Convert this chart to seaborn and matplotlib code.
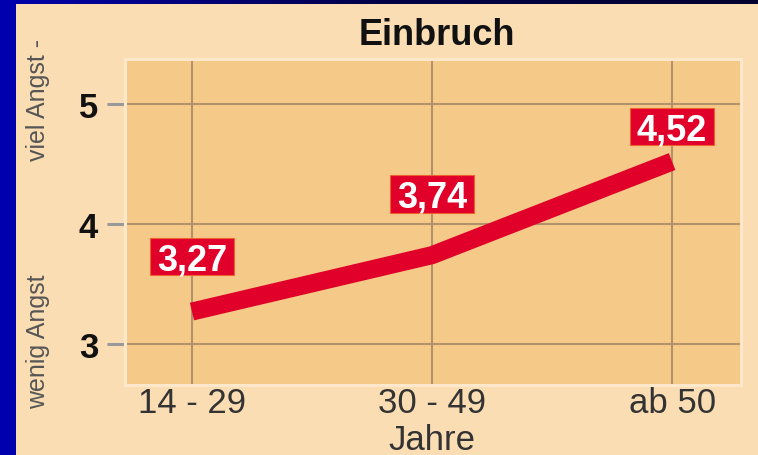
import matplotlib
matplotlib.use("Agg")
import matplotlib.pyplot as plt
import matplotlib.patches as mpatches
from matplotlib.path import Path
from matplotlib.colors import LinearSegmentedColormap
import numpy as np
import pandas as pd
import seaborn as sns

# ---- data ----
categories = ["14 - 29", "30 - 49", "ab 50"]
values = [3.27, 3.74, 4.52]
value_labels = ["3,27", "3,74", "4,52"]
y_ticks = [3, 4, 5]
title = "Einbruch"
x_title = "Jahre"
y_low_text = "wenig Angst"
y_high_text = "viel Angst -"

df = pd.DataFrame({"pos": range(len(categories)), "value": values})

sns.set_theme(style="white")
plt.rcParams['font.family'] = ['Liberation Sans', 'DejaVu Sans']

W, H = 758, 456
fig = plt.figure(figsize=(W / 100, H / 100), dpi=100)
peach = "#FBDDB4"
fig.patch.set_facecolor(peach)

# blue frame: left strip and top gradient bar
bg = fig.add_axes([0, 0, 1, 1], zorder=-10)
bg.axis("off")
bg.add_patch(mpatches.Rectangle((0, 0), 16, H, color="#0000AE", lw=0))
grad = np.linspace(0, 1, 256).reshape(1, -1)
cmap = LinearSegmentedColormap.from_list("b", ["#0000AE", "#000048", "#000030"])
bg.imshow(grad, extent=(0, W, 5, 0), aspect="auto", cmap=cmap)
bg.set_xlim(0, W); bg.set_ylim(H, 0)

def px(x0, y0, x1, y1):
    return [x0 / W, 1 - y1 / H, (x1 - x0) / W, (y1 - y0) / H]

ax = fig.add_axes(px(124.5, 59.5, 740.5, 386))
ax.set_facecolor("#F5C987")

sns.lineplot(data=df, x="pos", y="value", ax=ax, color="#E0002A", lw=13,
             solid_capstyle="butt", zorder=3, legend=False)

ax.set_xlim(-0.281, 2.285)
ax.set_ylim(2.658, 5.379)
ax.set_xticks(range(len(categories)))
ax.set_xticklabels(categories, fontsize=25, color="#333333")
ax.set_yticks(y_ticks)
ax.set_yticklabels([str(t) for t in y_ticks], fontsize=25, fontweight="bold", color="#111111")
ax.tick_params(axis="x", length=0, pad=1)
ax.tick_params(axis="y", length=13, width=2.2, color="#999999", pad=6, direction="out", left=True)
ax.grid(True, color="#B3916A", lw=1.5, zorder=1)
ax.set_axisbelow(True)
for s in ax.spines.values():
    s.set_color("#FDE8CB")
    s.set_linewidth(2.2)
ax.set_xlabel("")
ax.set_ylabel("")

fig.text(432 / W, 1 - 450 / H, x_title, ha="center", va="baseline", fontsize=25, color="#333333")


def label_box(x0, y0, width, height, mutation_size):
    cx = x0 + width / 2
    cy = y0 + 0.57 * mutation_size
    hw = width / 2 + 0.2 * mutation_size
    hh = 0.52 * mutation_size
    verts = [(cx - hw, cy - hh), (cx + hw, cy - hh), (cx + hw, cy + hh),
             (cx - hw, cy + hh), (cx - hw, cy - hh)]
    return Path(verts, closed=True)


# value labels in red boxes
offsets = [52, 58, 32]
for i, (v, lab) in enumerate(zip(values, value_labels)):
    ax.annotate(lab, xy=(i, v), xytext=(0, offsets[i] * 0.72), textcoords="offset points",
                ha="center", va="center", fontsize=26, fontweight="bold", color="white",
                bbox=dict(boxstyle=label_box, fc="#E0002A", ec="#F06030", lw=0.8),
                zorder=5)

fig.text(437 / W, 1 - 45 / H, title, ha="center", va="baseline", fontsize=26,
         fontweight="bold", color="#111111")

fig.text(38 / W, 1 - 342 / H, y_low_text, rotation=90, ha="center", va="center",
         fontsize=18, color="#555555")
fig.text(38 / W, 1 - 100 / H, y_high_text, rotation=90, ha="center", va="center",
         fontsize=18, color="#555555")

fig.savefig("out.png", dpi=100, facecolor=fig.get_facecolor())
